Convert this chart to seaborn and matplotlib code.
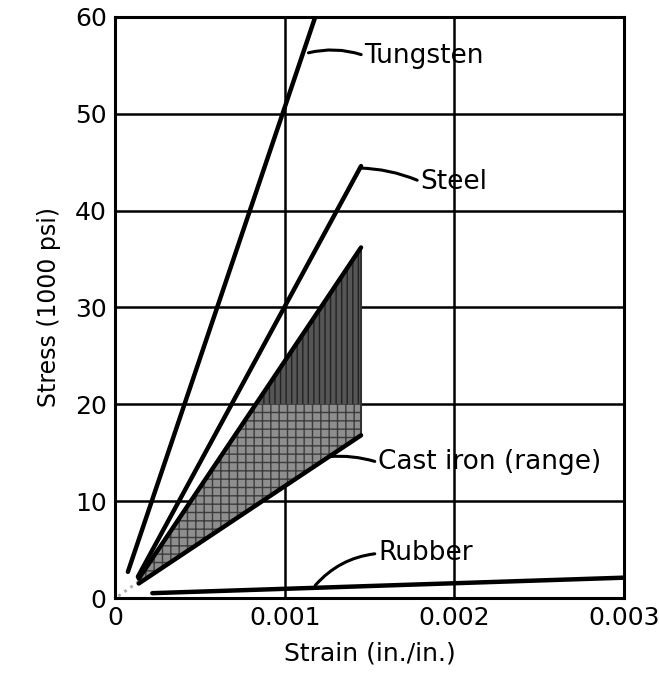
import seaborn as sns
import matplotlib.pyplot as plt
import pandas as pd

# strain in in./in., stress in 1000 psi
tungsten_strain = [0.000076, 0.00118]
tungsten_stress = [2.7, 60.0]

steel_strain = [0.000135, 0.00145]
steel_stress = [2.2, 44.6]

# cast iron range: upper and lower bounds
iron_strain = [0.00014, 0.00145]
iron_upper = [2.0, 36.2]
iron_lower = [1.5, 16.8]

rubber_strain = [0.00022, 0.003]
rubber_stress = [0.5, 2.1]

x_ticks = [0, 0.001, 0.002, 0.003]
x_labels = ["0", "0.001", "0.002", "0.003"]
y_ticks = [0, 10, 20, 30, 40, 50, 60]

sns.set_style("white")
plt.rcParams['font.family'] = ['DejaVu Sans']
plt.rcParams['text.color'] = 'black'
plt.rcParams['axes.labelcolor'] = 'black'
plt.rcParams['xtick.color'] = 'black'
plt.rcParams['ytick.color'] = 'black'

fig = plt.figure(figsize=(6.59, 6.96), dpi=100)
ax = fig.add_axes([0.1745, 0.1408, 0.7725, 0.8348])

# grid lines
for y in y_ticks[1:-1]:
    ax.axhline(y, color='black', lw=1.8, zorder=1)
for x in x_ticks[1:-1]:
    ax.axvline(x, color='black', lw=1.8, zorder=1)

# shaded cast iron band, darker above 20
band = ax.fill_between(iron_strain, iron_lower, iron_upper, facecolor='#8e8e8e',
                       edgecolor='#3c3c3c', hatch='++', lw=0, zorder=2)
dark = ax.axhspan(20, 60, facecolor='#555555', edgecolor='#222222', hatch='|||',
                  lw=0, zorder=2.5)
dark.set_clip_path(band.get_paths()[0], ax.transData)
ax.plot([iron_strain[1], iron_strain[1]], [iron_lower[1], iron_upper[1]],
        color='#333333', lw=1.5, zorder=3)
ax.plot([0.00002, iron_strain[0]], [0.2, 1.7], color='#aaaaaa', lw=2, ls=':', zorder=2)

df = pd.concat([
    pd.DataFrame({"strain": tungsten_strain, "stress": tungsten_stress, "mat": "Tungsten"}),
    pd.DataFrame({"strain": steel_strain, "stress": steel_stress, "mat": "Steel"}),
    pd.DataFrame({"strain": iron_strain, "stress": iron_upper, "mat": "Iron upper"}),
    pd.DataFrame({"strain": iron_strain, "stress": iron_lower, "mat": "Iron lower"}),
    pd.DataFrame({"strain": rubber_strain, "stress": rubber_stress, "mat": "Rubber"}),
])
sns.lineplot(data=df, x="strain", y="stress", units="mat", estimator=None,
             color='black', lw=3.2, ax=ax, zorder=4)

# labels with leaders
fs = 19
def leader(rad):
    return dict(arrowstyle='-', color='black', lw=2.2, shrinkA=0, shrinkB=0,
                relpos=(0, 0.5), connectionstyle="arc3,rad=%s" % rad)

ax.annotate("Tungsten", xy=(0.00114, 56.3), xytext=(0.00147, 56.0), fontsize=fs,
            va='center', arrowprops=leader(0.15))
ax.annotate("Steel", xy=(0.00144, 44.4), xytext=(0.00180, 43.0), fontsize=fs,
            va='center', arrowprops=leader(0.1))
ax.annotate("Cast iron (range)", xy=(0.00126, 14.6), xytext=(0.00155, 14.0), fontsize=fs,
            va='center', arrowprops=leader(0.1))
ax.annotate("Rubber", xy=(0.00118, 1.3), xytext=(0.00155, 4.6), fontsize=fs,
            va='center', arrowprops=leader(0.2))

ax.set_xlim(0, 0.003)
ax.set_ylim(0, 60)
ax.set_xticks(x_ticks)
ax.set_xticklabels(x_labels, fontsize=18)
ax.set_yticks(y_ticks)
ax.set_yticklabels([str(v) for v in y_ticks], fontsize=18)
ax.tick_params(length=0, pad=6)
for s in ax.spines.values():
    s.set_linewidth(2.2)
    s.set_color('black')
ax.set_xlabel("Strain (in./in.)", fontsize=18, labelpad=8)
ax.set_ylabel("Stress (1000 psi)", fontsize=17, labelpad=10)

fig.savefig("out.png", dpi=100)
